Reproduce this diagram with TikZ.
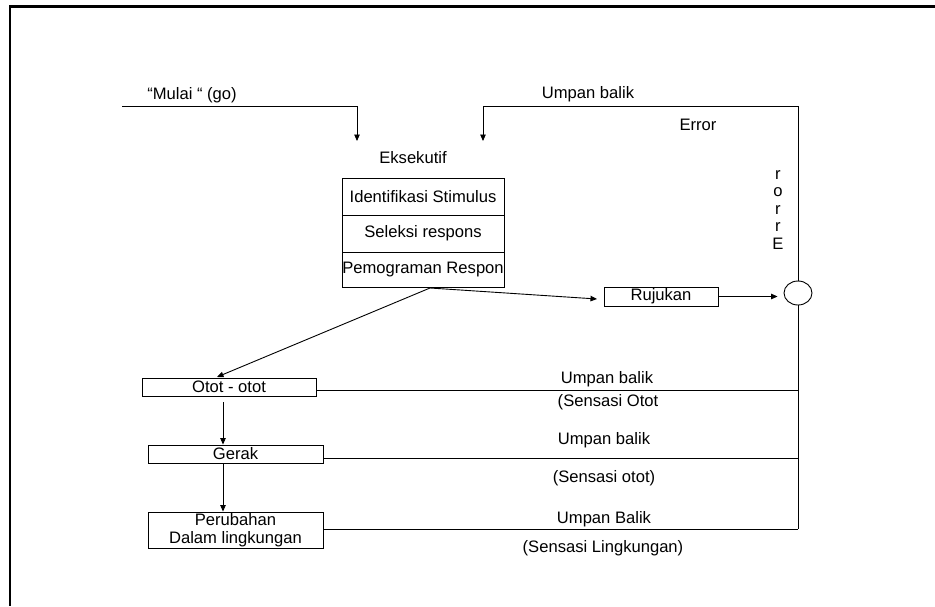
\documentclass[tikz,border=0pt]{standalone}
\usepackage{fontspec}
\setmainfont{Liberation Sans}
\usetikzlibrary{arrows.meta,shapes.geometric,calc}
\begin{document}
\begin{tikzpicture}[x=1pt,y=-1pt,
  every node/.style={inner sep=0pt, font=\fontsize{16.6}{17.5}\selectfont},
  box/.style={draw, line width=0.9pt, align=center, inner sep=0pt},
  wire/.style={line width=0.9pt},
  arr/.style={wire, -{Triangle[length=6.5pt,width=5.5pt]}}]
\useasboundingbox (0,0) rectangle (935,606);
% frame
\draw[line width=2.8pt] (935,6.5) -- (10,6.5) -- (10,606);

% executive block
\node (eks) at (413,158) {Eksekutif};
\node[box, minimum width=162, minimum height=37] (idn) at (423,196.5) {Identifikasi Stimulus};
\node[box, minimum width=162, minimum height=37] (sel) at (423,233.5) {Seleksi respons};
\node[box, minimum width=162, minimum height=35] (pem) at (423,269.5) {Pemograman Respon};

% other boxes
\node[box, minimum width=114, minimum height=19] (ruj) at (661,296.5) {Rujukan};
\node[draw, line width=0.9pt, ellipse, minimum width=28, minimum height=24] (circ) at (798,293) {};
\node[box, minimum width=174, minimum height=18] (otot) at (229,387) {Otot - otot};
\node[box, minimum width=175, minimum height=18] (gerak) at (235.5,454) {Gerak};
\node[box, minimum width=175, minimum height=36] (per) at (235.5,530) {Perubahan\\Dalam lingkungan};

% labels
\node (mulai) at (192,95) {“Mulai “ (go)};
\node (ub0) at (588,94) {Umpan balik};
\node (err) at (698,125) {Error};
\node[align=center] (rorre) at (778,210) {r\\o\\r\\r\\E};
\node (ub1) at (607,379) {Umpan balik};
\node (so1) at (608,402) {(Sensasi Otot};
\node (ub2) at (604,440) {Umpan balik};
\node (so2) at (604,478) {(Sensasi otot)};
\node (ub3) at (604,519) {Umpan Balik};
\node (sl) at (603,548) {(Sensasi Lingkungan)};

% coordinates
\coordinate (m0) at (122,106);
\coordinate (m1) at (357,106);
\coordinate (m2) at (357,141);
\coordinate (f1) at (798,106);
\coordinate (f2) at (483,106);
\coordinate (f3) at (483,141);
\coordinate (pb) at (430,288);
\coordinate (ot) at (217,377);
\coordinate (j1) at (798,390);
\coordinate (j2) at (798,458);
\coordinate (j3) at (798,529);
\coordinate (a1) at (223,402);
\coordinate (rt) at (597,299);

% connectors
\draw[arr] (m0) -- (m1) -- (m2);
\draw[arr] (circ.north) -- (f1) -- (f2) -- (f3);
\draw[wire] (circ.south) -- (j3);
\draw[arr] (pb) -- (rt);
\draw[arr, shorten >=6pt] (ruj.east) -- (circ.west |- ruj.east);
\draw[arr] (pb) -- (ot);
\draw[wire] (otot.east |- j1) -- (j1);
\draw[wire] (gerak.east |- j2) -- (j2);
\draw[wire] (per.east |- j3) -- (j3);
\draw[arr] (a1) -- (a1 |- gerak.north);
\draw[arr] (a1 |- gerak.south) -- (a1 |- per.north);
\end{tikzpicture}
\end{document}
